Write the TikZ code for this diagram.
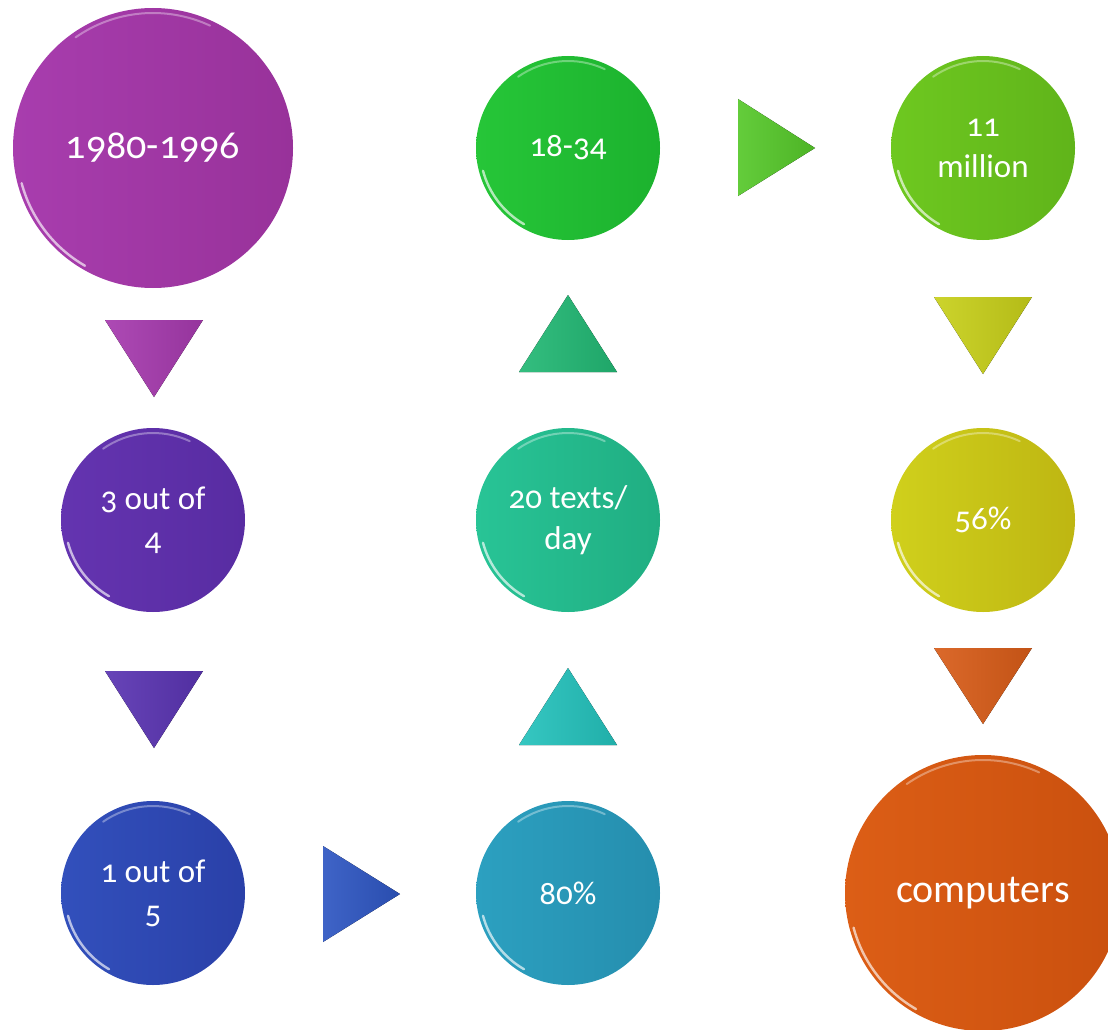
\documentclass[tikz,border=0pt]{standalone}
\usepackage{fontspec}
\setmainfont{Carlito}[Numbers=OldStyle]
\usetikzlibrary{calc}
\definecolor{pA}{HTML}{A83DAE}\definecolor{pB}{HTML}{98329A}
\definecolor{vA}{HTML}{6434B0}\definecolor{vB}{HTML}{582CA2}
\definecolor{bA}{HTML}{3250BC}\definecolor{bB}{HTML}{2A40A8}
\definecolor{cA}{HTML}{2CA0C0}\definecolor{cB}{HTML}{258EAE}
\definecolor{tA}{HTML}{28C496}\definecolor{tB}{HTML}{20AE82}
\definecolor{gA}{HTML}{26C638}\definecolor{gB}{HTML}{1CB22E}
\definecolor{lA}{HTML}{6EC820}\definecolor{lB}{HTML}{60B41A}
\definecolor{yA}{HTML}{D0D01C}\definecolor{yB}{HTML}{BEB612}
\definecolor{oA}{HTML}{DC5E16}\definecolor{oB}{HTML}{CA500E}
\definecolor{tri1}{HTML}{A63AAE}\definecolor{tri2}{HTML}{5A34B2}
\definecolor{tri3}{HTML}{2E56C2}\definecolor{tri4}{HTML}{24C2BC}
\definecolor{tri5}{HTML}{22B874}\definecolor{tri6}{HTML}{56C82A}
\definecolor{tri7}{HTML}{C8D01A}\definecolor{tri8}{HTML}{D85C18}
\tikzset{
  bubble/.style={circle, inner sep=0pt, text=white, align=center, draw=none},
  small/.style={font=\fontsize{33}{41}\selectfont},
  big/.style={font=\fontsize{40}{46}\selectfont},
  rimlight/.style={white, line width=2.4pt, opacity=0.65, line cap=round},
  toplight/.style={white, line width=2pt, opacity=0.35, line cap=round},
}
\newcommand\mkbubble[8]{% name, x, y, r, colA, colB, style, text
  \node[bubble, #7, minimum size=2*#4pt, left color=#5, right color=#6] (#1) at (#2,#3) {#8};
  \draw[rimlight] (#1.center) ++(120:#4-4) arc[start angle=120, end angle=165, radius=#4-4];
  \draw[toplight] (#1.center) ++(235:#4-5) arc[start angle=235, end angle=295, radius=#4-5];
}
\newcommand\mktri[5]{% name, p1, p2, p3, colour
  \fill[left color=#5!92!white, right color=#5!90!black] #2 coordinate (#1a) -- #3 coordinate (#1b) -- #4 coordinate (#1c) -- cycle;
}
\begin{document}
\begin{tikzpicture}[x=1pt,y=-1pt]
\useasboundingbox (0,0) rectangle (1108,1030);
\clip (0,0) rectangle (1108,1030);
\mkbubble{c1}{153}{148}{140}{pA}{pB}{big}{1980-1996}
\mkbubble{c2}{153}{520}{92}{vA}{vB}{small}{3 out of\\4}
\mkbubble{c3}{153}{893}{92}{bA}{bB}{small}{1 out of\\5}
\mkbubble{c4}{568}{893}{92}{cA}{cB}{small}{80\%}
\mkbubble{c5}{568}{520}{92}{tA}{tB}{small}{20 texts/\\day}
\mkbubble{c6}{568}{148}{92}{gA}{gB}{small}{18-34}
\mkbubble{c7}{983}{148}{92}{lA}{lB}{small}{11\\million}
\mkbubble{c8}{983}{520}{92}{yA}{yB}{small}{56\%}
\mkbubble{c9}{983}{893}{138}{oA}{oB}{big}{computers}
\mktri{t1}{(105,320)}{(203,320)}{(154,397)}{tri1}
\mktri{t2}{(105,671)}{(203,671)}{(154,748)}{tri2}
\mktri{t3}{(323,846)}{(400,894)}{(323,942)}{tri3}
\mktri{t4}{(519,745)}{(617,745)}{(568,668)}{tri4}
\mktri{t5}{(519,372)}{(617,372)}{(568,295)}{tri5}
\mktri{t6}{(738,99)}{(815,148)}{(738,196)}{tri6}
\mktri{t7}{(934,297)}{(1032,297)}{(983,374)}{tri7}
\mktri{t8}{(934,648)}{(1032,648)}{(983,724)}{tri8}
\end{tikzpicture}
\end{document}
